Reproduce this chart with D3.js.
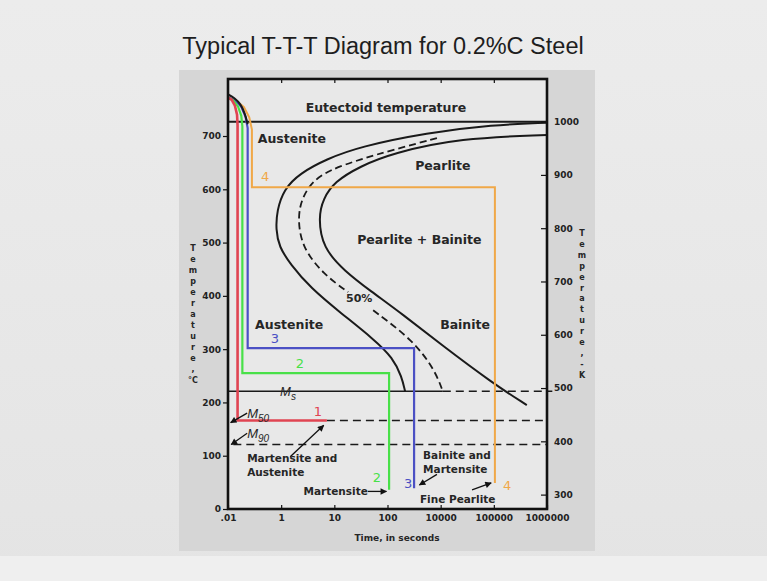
<!DOCTYPE html>
<html>
<head>
<meta charset="utf-8">
<script src="https://cdn.jsdelivr.net/npm/d3@7"></script>
<style>
  body { margin: 0; background: #e9e9e9; }
  svg { display: block; }
  .tick text { font-family: "DejaVu Sans", sans-serif; font-weight: bold; font-size: 9px; fill: #222; }
  .tick line { stroke: #111; stroke-width: 1.2; }
  .label { font-family: "DejaVu Sans", sans-serif; font-weight: bold; fill: #262626; }
</style>
</head>
<body>
<div id="chart"></div>
<script>
// time axis: decade index 0..6, labelled as on the original slide
const decades = [0, 1, 2, 3, 4, 5, 6];
const timeLabels = ['.01', '1', '10', '100', '10000', '100000', '1000000'];
const celsiusTicks = [0, 100, 200, 300, 400, 500, 600, 700];
const kelvinTicks = [300, 400, 500, 600, 700, 800, 900, 1000];
const leftTitle = ['T','e','m','p','e','r','a','t','u','r','e',',','°C'];
const rightTitle = ['T','e','m','p','e','r','a','t','u','r','e',',','-','K'];

// [decade, °C]
const startCurve = [[6.0,725],[4.98,721],[3.74,706],[2.48,680],[1.86,657],[1.35,630],[1.05,600],[0.92,560],
  [0.90,525],[0.96,492],[1.17,460],[1.55,415],[2.12,368],[2.75,318],[3.10,284],[3.27,248],[3.33,221]];
const fiftyUpper = [[3.93,696],[3.10,674],[2.48,656],[1.90,636],[1.58,614],[1.40,585],[1.31,550],
  [1.38,492],[1.80,440],[2.26,407]];
const fiftyLower = [[2.73,373],[3.48,317],[3.89,261],[4.04,221]];
const finishCurve = [[6.0,702],[4.36,696],[3.10,668],[2.48,643],[2.00,614],[1.79,582],[1.70,548],
  [1.78,490],[2.20,446],[2.67,410],[3.29,365],[3.99,310],[4.98,236],[5.62,195]];
const noseArc = [[0,778],[0.12,772],[0.24,760],[0.32,742],[0.37,722]];

const eutectoid = 727, msTemp = 221, m50Temp = 166, m90Temp = 121;

const path1 = [[0,772],[0.07,768],[0.13,757],[0.17,740],[0.18,720],[0.18,166],[1.86,166]];
const path2 = [[0,772],[0.10,767],[0.19,755],[0.25,738],[0.27,718],[0.27,255],[3.03,255],[3.03,36]];
const path3 = [[0,772],[0.13,767],[0.25,755],[0.33,736],[0.37,715],[0.37,302],[3.50,302],[3.50,39]];
const path4 = [[0,772],[0.15,767],[0.30,754],[0.40,735],[0.45,712],[0.45,604],[5.02,604],[5.02,49]];

const width = 767, height = 581;

var svg = d3.select('#chart').append('svg')
  .attr('width', width)
  .attr('height', height);

var defs = svg.append('defs');
defs.append('marker')
  .attr('id', 'arrow')
  .attr('viewBox', '0 0 10 10')
  .attr('refX', 9).attr('refY', 5)
  .attr('markerWidth', 6).attr('markerHeight', 5)
  .attr('orient', 'auto')
  .append('path')
  .attr('d', 'M0,0 L10,5 L0,10 z')
  .style('fill', '#111');

var grad = defs.append('linearGradient').attr('id', 'bg').attr('x1', 0).attr('x2', 0).attr('y1', 0).attr('y2', 1);
grad.append('stop').attr('offset', 0).attr('stop-color', '#ececec');
grad.append('stop').attr('offset', 1).attr('stop-color', '#e4e4e4');

// slide
svg.append('rect').attr('width', width).attr('height', height).style('fill', 'url(#bg)');
svg.append('rect').attr('x', 0).attr('y', 556).attr('width', width).attr('height', 25).style('fill', '#efefef');
svg.append('text')
  .attr('x', 383).attr('y', 54)
  .attr('text-anchor', 'middle')
  .style('font-family', '"Liberation Sans", Arial, sans-serif')
  .style('font-size', '23.5px')
  .style('fill', '#1e1e1e')
  .text('Typical T-T-T Diagram for 0.2%C Steel');

// grey panel of the pasted figure
svg.append('rect')
  .attr('x', 179).attr('y', 70).attr('width', 416).attr('height', 481)
  .style('fill', '#d6d6d6');

var xScale = d3.scaleLinear().domain([0, 6]).range([228, 547]);
var yScale = d3.scaleLinear().domain([0, 807]).range([509, 79]);
var kScale = d3.scaleLinear().domain([273, 1080]).range([509, 79]);

svg.append('rect')
  .attr('x', xScale(0)).attr('y', yScale(807))
  .attr('width', xScale(6) - xScale(0)).attr('height', yScale(0) - yScale(807))
  .style('fill', '#e8e8e8');

var line = d3.line()
  .x(function(d){ return xScale(d[0]); })
  .y(function(d){ return yScale(d[1]); });
var smooth = d3.line()
  .x(function(d){ return xScale(d[0]); })
  .y(function(d){ return yScale(d[1]); })
  .curve(d3.curveBasis);

// horizontal reference lines
svg.append('path').attr('d', line([[0, eutectoid], [6, eutectoid]]))
  .style('stroke', '#1a1a1a').style('stroke-width', 2).style('fill', 'none');
svg.append('path').attr('d', line([[0, msTemp], [4.04, msTemp]]))
  .style('stroke', '#1a1a1a').style('stroke-width', 1.6).style('fill', 'none');
svg.append('path').attr('d', line([[4.04, msTemp], [6.1, msTemp]]))
  .style('stroke', '#1a1a1a').style('stroke-width', 1.6).style('stroke-dasharray', '8,5').style('fill', 'none');
svg.append('path').attr('d', line([[1.86, m50Temp], [6, m50Temp]]))
  .style('stroke', '#1a1a1a').style('stroke-width', 1.5).style('stroke-dasharray', '8,5').style('fill', 'none');
svg.append('path').attr('d', line([[0.1, m90Temp], [6, m90Temp]]))
  .style('stroke', '#1a1a1a').style('stroke-width', 1.5).style('stroke-dasharray', '8,5').style('fill', 'none');

// transformation curves
[startCurve, finishCurve].forEach(function(c){
  svg.append('path').attr('d', smooth(c))
    .style('stroke', '#1a1a1a').style('stroke-width', 2).style('fill', 'none');
});
[fiftyUpper, fiftyLower].forEach(function(c){
  svg.append('path').attr('d', smooth(c))
    .style('stroke', '#1a1a1a').style('stroke-width', 1.8).style('stroke-dasharray', '7,4').style('fill', 'none');
});

// cooling paths
var paths = [
  { pts: path4, color: '#f0a848', w: 2 },
  { pts: path3, color: '#4b50c4', w: 2.2 },
  { pts: path2, color: '#48e048', w: 2.2 },
  { pts: path1, color: '#e04452', w: 2.6 }
];
paths.forEach(function(p){
  svg.append('path').attr('d', line(p.pts))
    .style('stroke', p.color).style('stroke-width', p.w).style('fill', 'none');
});
svg.append('path').attr('d', smooth(noseArc))
  .style('stroke', '#1a1a1a').style('stroke-width', 2).style('fill', 'none');

// axes
svg.append('g')
  .attr('transform', 'translate(' + xScale(0) + ',0)')
  .call(d3.axisLeft(yScale).tickValues(celsiusTicks).tickSize(5).tickPadding(2))
  .call(function(g){ g.select('.domain').remove(); });

svg.append('g')
  .attr('transform', 'translate(' + xScale(6) + ',0)')
  .call(d3.axisRight(kScale).tickValues(kelvinTicks).tickSizeInner(-6).tickSizeOuter(0).tickPadding(7)
    .tickFormat(d3.format('d')))
  .call(function(g){ g.select('.domain').remove(); });

svg.append('g')
  .attr('transform', 'translate(0,' + yScale(0) + ')')
  .call(d3.axisBottom(xScale).tickValues(decades).tickSizeInner(-4).tickSizeOuter(0).tickPadding(6)
    .tickFormat(function(d, i){ return timeLabels[i]; }))
  .call(function(g){ g.select('.domain').remove(); });

svg.append('g')
  .attr('transform', 'translate(0,' + yScale(807) + ')')
  .call(d3.axisTop(xScale).tickValues(decades.slice(1, 6)).tickSizeInner(-4).tickSizeOuter(0).tickFormat(''))
  .call(function(g){ g.select('.domain').remove(); });

// frame
svg.append('rect')
  .attr('x', xScale(0)).attr('y', yScale(807))
  .attr('width', xScale(6) - xScale(0)).attr('height', yScale(0) - yScale(807))
  .style('fill', 'none').style('stroke', '#111').style('stroke-width', 2.6);

// axis titles, one letter per row
svg.selectAll('.ltitle').data(leftTitle).enter().append('text')
  .attr('class', 'label ltitle')
  .attr('x', 193)
  .attr('y', function(d, i){ return 251 + i * 11; })
  .attr('text-anchor', 'middle')
  .style('font-size', '8px')
  .text(function(d){ return d; });

svg.selectAll('.rtitle').data(rightTitle).enter().append('text')
  .attr('class', 'label rtitle')
  .attr('x', 582)
  .attr('y', function(d, i){ return 236 + i * 10.9; })
  .attr('text-anchor', 'middle')
  .style('font-size', '8px')
  .text(function(d){ return d; });

svg.append('text')
  .attr('class', 'label')
  .attr('x', 397).attr('y', 541)
  .attr('text-anchor', 'middle')
  .style('font-size', '9px')
  .text('Time, in seconds');

// region labels [text, decade, °C, size, anchor]
const regionLabels = [
  ['Eutectoid temperature', 2.97, 745, 12.5, 'middle'],
  ['Austenite', 0.56, 686, 12.5, 'start'],
  ['Pearlite', 3.52, 636, 12.5, 'start'],
  ['Pearlite + Bainite', 2.43, 497, 12.5, 'start'],
  ['Bainite', 3.99, 338, 12.5, 'start'],
  ['Austenite', 0.51, 338, 12.5, 'start'],
  ['50%', 2.22, 388, 11, 'start'],
  ['Martensite and', 0.36, 88, 10.5, 'start'],
  ['Austenite', 0.36, 62, 10.5, 'start'],
  ['Martensite', 2.63, 26, 10.5, 'end'],
  ['Bainite and', 3.67, 94, 10.5, 'start'],
  ['Martensite', 3.67, 68, 10.5, 'start'],
  ['Fine Pearlite', 3.61, 11, 10.5, 'start']
];
svg.selectAll('.region').data(regionLabels).enter().append('text')
  .attr('class', 'label region')
  .attr('x', function(d){ return xScale(d[1]); })
  .attr('y', function(d){ return yScale(d[2]); })
  .attr('text-anchor', function(d){ return d[4]; })
  .style('font-size', function(d){ return d[3] + 'px'; })
  .text(function(d){ return d[0]; });

// path numbers [text, decade, °C, colour]
const pathNumbers = [
  ['4', 0.70, 615, '#f0a848'], ['3', 0.88, 311, '#4b50c4'], ['2', 1.35, 265, '#48e048'], ['1', 1.69, 175, '#e04452'],
  ['2', 2.80, 51, '#48e048'], ['3', 3.39, 39, '#4b50c4'], ['4', 5.25, 36, '#f0a848']
];
svg.selectAll('.num').data(pathNumbers).enter().append('text')
  .attr('x', function(d){ return xScale(d[1]); })
  .attr('y', function(d){ return yScale(d[2]); })
  .attr('text-anchor', 'middle')
  .style('font-family', '"DejaVu Sans", sans-serif')
  .style('font-size', '13px')
  .style('fill', function(d){ return d[3]; })
  .text(function(d){ return d[0]; });

// martensite temperature labels
const mLabels = [['s', 0.98, 213], ['50', 0.36, 171], ['90', 0.36, 133]];
mLabels.forEach(function(m){
  var t = svg.append('text')
    .attr('class', 'label')
    .attr('x', xScale(m[1])).attr('y', yScale(m[2]))
    .style('font-size', '13px').style('font-style', 'italic').style('font-weight', 'normal')
    .style('font-family', '"Liberation Sans", Arial, sans-serif');
  t.append('tspan').text('M');
  t.append('tspan').attr('dy', 4).style('font-size', '10px').text(m[0]);
});

// arrows [from, to] in [decade, °C]
const arrows = [
  [[0.36, 180], [0.05, 162]],
  [[0.36, 142], [0.06, 121]],
  [[1.17, 98], [1.80, 157]],
  [[2.63, 33], [2.98, 33]],
  [[3.93, 65], [3.60, 45]],
  [[4.59, 36], [4.95, 49]]
];
arrows.forEach(function(a){
  svg.append('path').attr('d', line(a))
    .style('stroke', '#111').style('stroke-width', 1.3).style('fill', 'none')
    .attr('marker-end', 'url(#arrow)');
});
</script>
</body>
</html>
